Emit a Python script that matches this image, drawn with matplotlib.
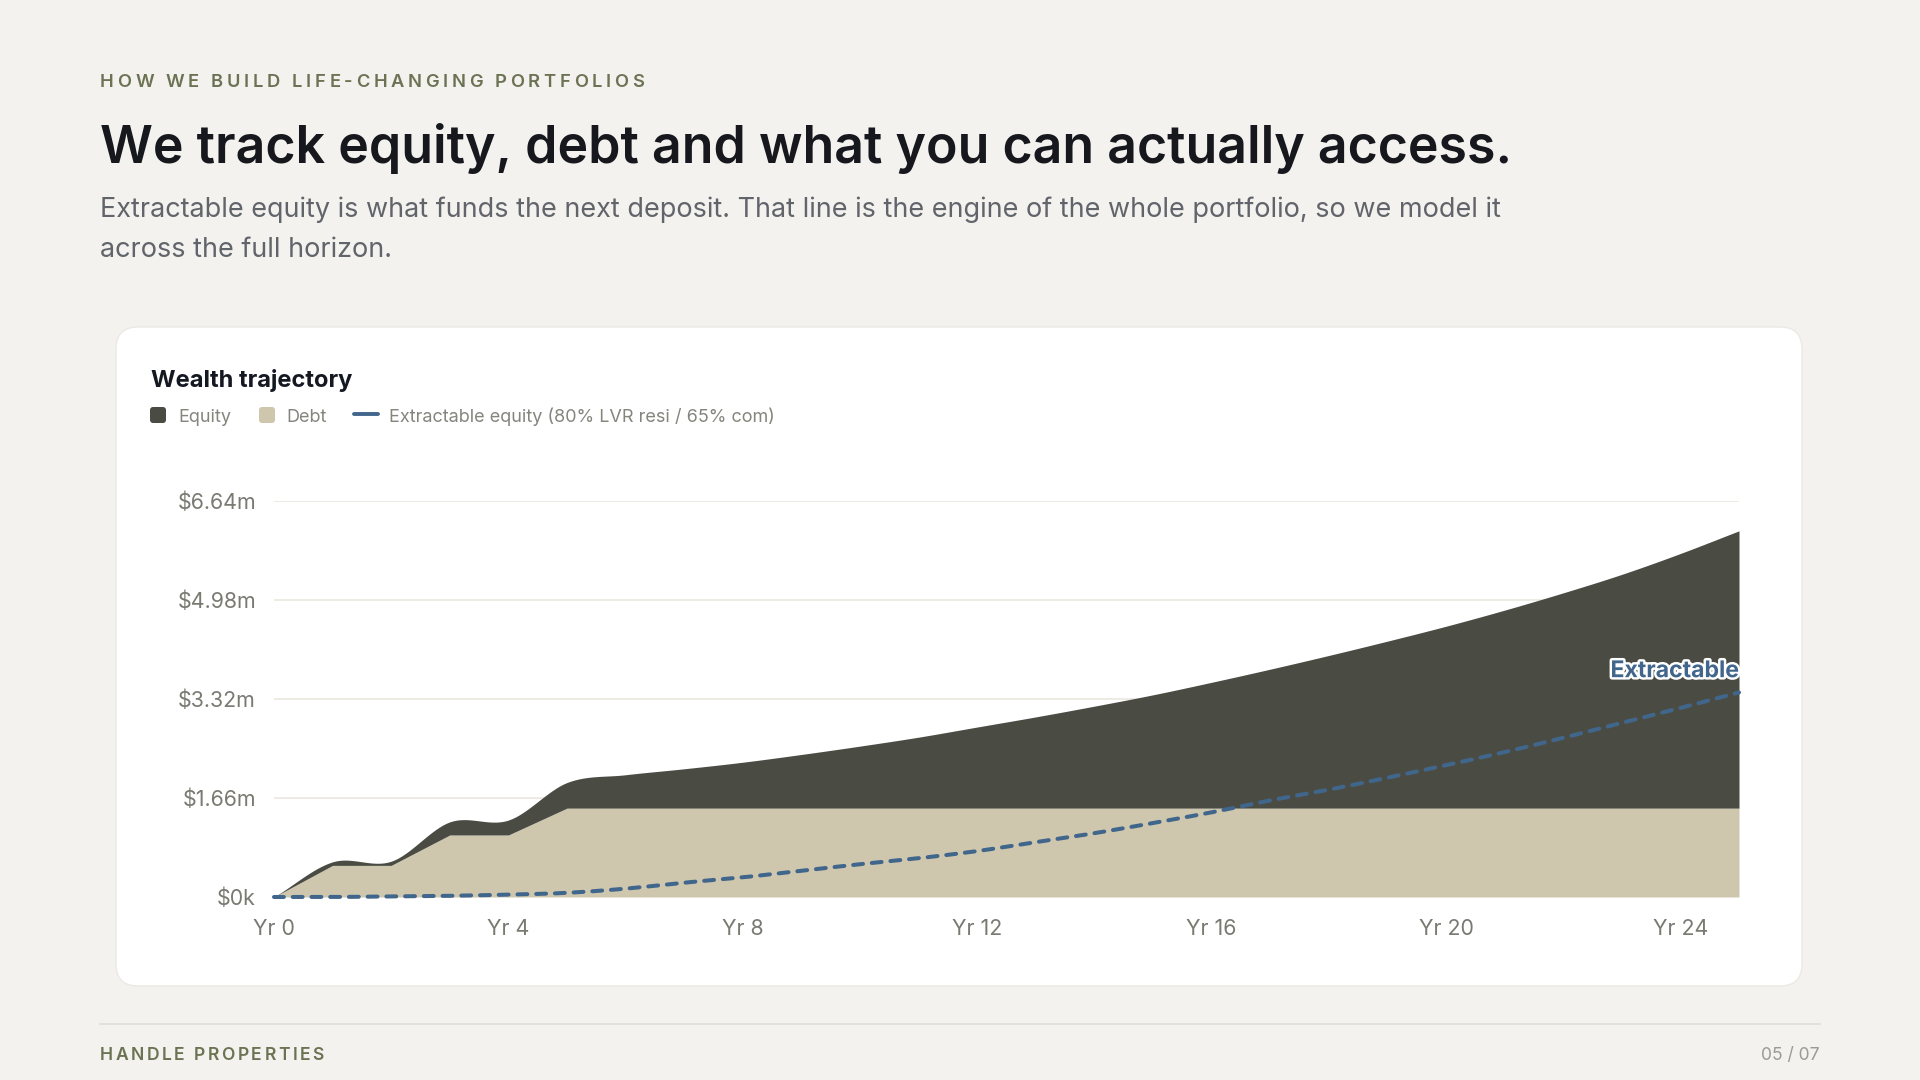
import numpy as np
import matplotlib
matplotlib.use("Agg")
import matplotlib.pyplot as plt
from matplotlib.patches import FancyBboxPatch
from matplotlib.lines import Line2D
from matplotlib.transforms import IdentityTransform
import matplotlib.patheffects as pe

# ---- data ($m) ----
years = list(range(26))
debt = [0, 0.53, 0.53, 1.04, 1.04, 1.49, 1.49, 1.49, 1.49, 1.49, 1.49, 1.49, 1.49,
        1.49, 1.49, 1.49, 1.49, 1.49, 1.49, 1.49, 1.49, 1.49, 1.49, 1.49, 1.49, 1.49]
equity = [0, 0.06, 0.07, 0.22, 0.25, 0.43, 0.56, 0.66, 0.77, 0.90, 1.04, 1.19, 1.36,
          1.53, 1.71, 1.90, 2.11, 2.33, 2.56, 2.80, 3.05, 3.32, 3.61, 3.92, 4.27, 4.65]
extractable = [0, 0, 0.01, 0.02, 0.04, 0.07, 0.14, 0.24, 0.33, 0.44, 0.55, 0.65, 0.77,
               0.92, 1.07, 1.24, 1.42, 1.62, 1.80, 2.00, 2.21, 2.43, 2.67, 2.92, 3.17, 3.43]

y_ticks = [0, 1.66, 3.32, 4.98, 6.64]
y_labels = ["$0k", "$1.66m", "$3.32m", "$4.98m", "$6.64m"]
x_ticks = [0, 4, 8, 12, 16, 20, 24]
x_labels = ["Yr 0", "Yr 4", "Yr 8", "Yr 12", "Yr 16", "Yr 20", "Yr 24"]

kicker = "HOW WE BUILD LIFE-CHANGING PORTFOLIOS"
title = "We track equity, debt and what you can actually access."
subtitle = ["Extractable equity is what funds the next deposit. That line is the engine of the whole portfolio, so we model it",
            "across the full horizon."]
chart_title = "Wealth trajectory"
legend_labels = ["Equity", "Debt", "Extractable equity (80% LVR resi / 65% com)"]
footer_left = "HANDLE PROPERTIES"
footer_right = "05 / 07"

BG = "#f3f2ee"
EQUITY = "#4a4c44"
DEBT = "#cec7ae"
EXTRACT = "#41668c"

plt.rcParams["font.family"] = ["Inter", "DejaVu Sans"]

W, H = 1920, 1080
fig = plt.figure(figsize=(19.2, 10.8), dpi=100, facecolor=BG)
renderer = fig.canvas.get_renderer()


def fx(x):
    return x / W


def fy(y):
    return 1 - y / H


def fit_text(x, y, s, width, size, **kw):
    t = fig.text(fx(x), fy(y), s, fontsize=size, va="baseline", **kw)
    w = t.get_window_extent(renderer).width
    t.set_fontsize(size * width / w)
    return t


def spaced_text(x, y, s, width, size, **kw):
    ref = fig.text(0, 0, "HH", fontsize=size, **kw)
    base = ref.get_window_extent(renderer).width
    adv = []
    for c in s:
        ref.set_text("H" + c + "H")
        adv.append(ref.get_window_extent(renderer).width - base)
    ref.remove()
    gap = (width - sum(adv)) / (len(s) - 1)
    cx = x
    for c, a in zip(s, adv):
        fig.text(fx(cx), fy(y), c, fontsize=size, va="baseline", **kw)
        cx += a + gap


def smooth(xs, ys, steps=16):
    x = np.asarray(xs, float)
    y = np.asarray(ys, float)
    xp = np.concatenate([[2 * x[0] - x[1]], x, [2 * x[-1] - x[-2]]])
    yp = np.concatenate([[2 * y[0] - y[1]], y, [2 * y[-1] - y[-2]]])
    t = np.linspace(0, 1, steps, endpoint=False)
    h00 = 2 * t**3 - 3 * t**2 + 1
    h10 = t**3 - 2 * t**2 + t
    h01 = -2 * t**3 + 3 * t**2
    h11 = t**3 - t**2
    ox, oy = [], []
    for i in range(1, len(xp) - 2):
        m1 = (yp[i + 1] - yp[i - 1]) / 2
        m2 = (yp[i + 2] - yp[i]) / 2
        ox.append(xp[i] + t * (xp[i + 1] - xp[i]))
        oy.append(h00 * yp[i] + h10 * m1 + h01 * yp[i + 1] + h11 * m2)
    ox.append([x[-1]])
    oy.append([y[-1]])
    return np.concatenate(ox), np.concatenate(oy)


# ---- header ----
spaced_text(100, 87, kicker, 544, 13.2, color="#6b7353", fontweight="semibold")
fit_text(100, 163, title, 1411, 40, color="#16181d", fontweight="semibold")
sub = fit_text(100, 217, subtitle[0], 1396, 18, color="#61646a")
fig.text(fx(100), fy(257), subtitle[1], fontsize=sub.get_fontsize(), va="baseline", color="#61646a")

# ---- card (behind the axes) ----
card = FancyBboxPatch((116, H - 986), 1686, 659, boxstyle="round,pad=0,rounding_size=22",
                      transform=IdentityTransform(), facecolor="white", edgecolor="#ebe9e3",
                      linewidth=1, zorder=-1)
fig.patches.append(card)

fit_text(151, 387, chart_title, 202, 16, color="#141821", fontweight="bold")

# legend
lg = fit_text(389, 422, legend_labels[2], 386, 13, color="#85857e")
lsize = lg.get_fontsize()
for x0, col in [(150, EQUITY), (259, DEBT)]:
    fig.patches.append(FancyBboxPatch((x0, H - 423), 16, 16, boxstyle="round,pad=0,rounding_size=3",
                                      transform=IdentityTransform(), facecolor=col, edgecolor="none"))
fig.text(fx(178), fy(422), legend_labels[0], fontsize=lsize, va="baseline", color="#85857e")
fig.text(fx(286), fy(422), legend_labels[1], fontsize=lsize, va="baseline", color="#85857e")
fig.lines.append(Line2D([fx(354), fx(378)], [fy(414), fy(414)], transform=fig.transFigure,
                        color=EXTRACT, linewidth=2.8, solid_capstyle="round"))

# ---- chart ----
ax = fig.add_axes([fx(274), fy(897), (1739 - 274) / W, (897 - 501) / H], zorder=1)
ax.set_facecolor("none")

top = [d + e for d, e in zip(debt, equity)]
sx, s_top = smooth(years, top)
d_dense = np.interp(sx, years, debt)
s_top = np.maximum(s_top, d_dense)
ax.fill_between(sx, 0, d_dense, color=DEBT, linewidth=0, zorder=2)
ax.fill_between(sx, d_dense, s_top, color=EQUITY, linewidth=0, zorder=2)

ex, s_ext = smooth(years, extractable)
s_ext = np.maximum(s_ext, 0)
ax.plot(ex, s_ext, color=EXTRACT, linewidth=2.9, linestyle=(0, (2.45, 2.2)),
        dash_capstyle="round", zorder=3, clip_on=False)
ax.annotate("Extractable", xy=(years[-1], extractable[-1]), xytext=(0, 11),
            textcoords="offset points", ha="right", va="baseline", fontsize=16.6,
            fontweight="bold", color=EXTRACT, zorder=4, annotation_clip=False,
            path_effects=[pe.withStroke(linewidth=3.5, foreground="white")])

ax.set_xlim(0, 25)
ax.set_ylim(0, 6.64)
ax.set_yticks(y_ticks)
ax.set_yticklabels(y_labels)
ax.set_xticks(x_ticks)
ax.set_xticklabels(x_labels)
ax.tick_params(length=0, labelsize=15.4, labelcolor="#7a7a72")
ax.tick_params(axis="y", pad=13)
ax.tick_params(axis="x", pad=16)
ax.grid(axis="y", color="#ebe8e0", linewidth=1.2)
ax.set_axisbelow(True)
for sp in ax.spines.values():
    sp.set_visible(False)

# ---- footer ----
fig.lines.append(Line2D([fx(100), fx(1820)], [fy(1024), fy(1024)], transform=fig.transFigure,
                        color="#dfddd7", linewidth=1.1))
spaced_text(100, 1060, footer_left, 224, 12.6, color="#6b7353", fontweight="semibold")
fig.text(fx(1820), fy(1060), footer_right, fontsize=12.6, ha="right", va="baseline", color="#9b9b93")

fig.savefig("out.png", dpi=100, facecolor=BG)
